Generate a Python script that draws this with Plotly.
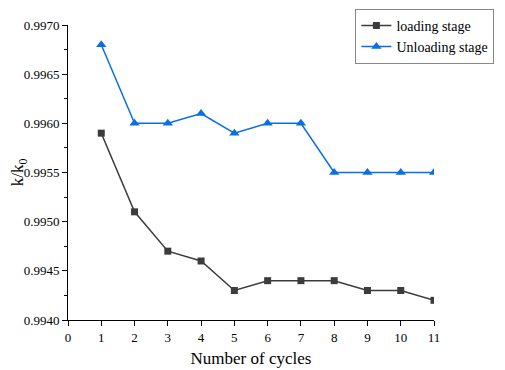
import plotly.graph_objects as go

cycles = [1, 2, 3, 4, 5, 6, 7, 8, 9, 10, 11]
loading = [0.9959, 0.9951, 0.9947, 0.9946, 0.9943, 0.9944, 0.9944, 0.9944, 0.9943, 0.9943, 0.9942]
unloading = [0.9968, 0.9960, 0.9960, 0.9961, 0.9959, 0.9960, 0.9960, 0.9955, 0.9955, 0.9955, 0.9955]
y_ticks = [0.9940, 0.9945, 0.9950, 0.9955, 0.9960, 0.9965, 0.9970]
x_ticks = list(range(0, 12))

font = "Liberation Serif, Times New Roman, serif"

fig = go.Figure()
fig.add_trace(go.Scatter(x=cycles, y=loading, mode="lines+markers", name="loading stage",
                         line=dict(color="#3c3c3c", width=1.5),
                         marker=dict(symbol="square", size=7, color="#3c3c3c")))
fig.add_trace(go.Scatter(x=cycles, y=unloading, mode="lines+markers", name="Unloading stage",
                         line=dict(color="#0a6fe6", width=1.5),
                         marker=dict(symbol="triangle-up", size=9, color="#0a6fe6")))

fig.update_layout(
    width=497, height=362,
    margin=dict(l=60, r=71, t=17, b=50, autoexpand=False),
    paper_bgcolor="white", plot_bgcolor="white",
    font=dict(family=font, color="black", size=13),
    showlegend=True,
    legend=dict(x=1.165, y=1.055, xanchor="right", yanchor="top",
                bordercolor="#888888", borderwidth=1, bgcolor="white",
                font=dict(family=font, size=14), tracegroupgap=0,
                itemwidth=30),
    xaxis=dict(range=[0, 11], tickvals=x_ticks, ticktext=[str(v) for v in x_ticks],
               showgrid=False, zeroline=False, showline=True, linecolor="black", linewidth=1,
               ticks="outside", ticklen=5, tickcolor="black", automargin=False,
               tickfont=dict(family=font, size=13),
               title=dict(text="Number of cycles", font=dict(family=font, size=17), standoff=8)),
    yaxis=dict(range=[0.9940, 0.9970], tickvals=y_ticks, ticktext=[f"{v:.4f}" for v in y_ticks],
               showgrid=False, zeroline=False, showline=True, linecolor="black", linewidth=1,
               ticks="outside", ticklen=5, tickcolor="black", automargin=False,
               minor=dict(dtick=0.00025, ticks="outside", ticklen=3, tickcolor="black", showgrid=False),
               tickfont=dict(family=font, size=13),
               title=dict(text="k/k<sub>0</sub>", font=dict(family=font, size=17), standoff=6)),
)

fig.write_html("out.html")
